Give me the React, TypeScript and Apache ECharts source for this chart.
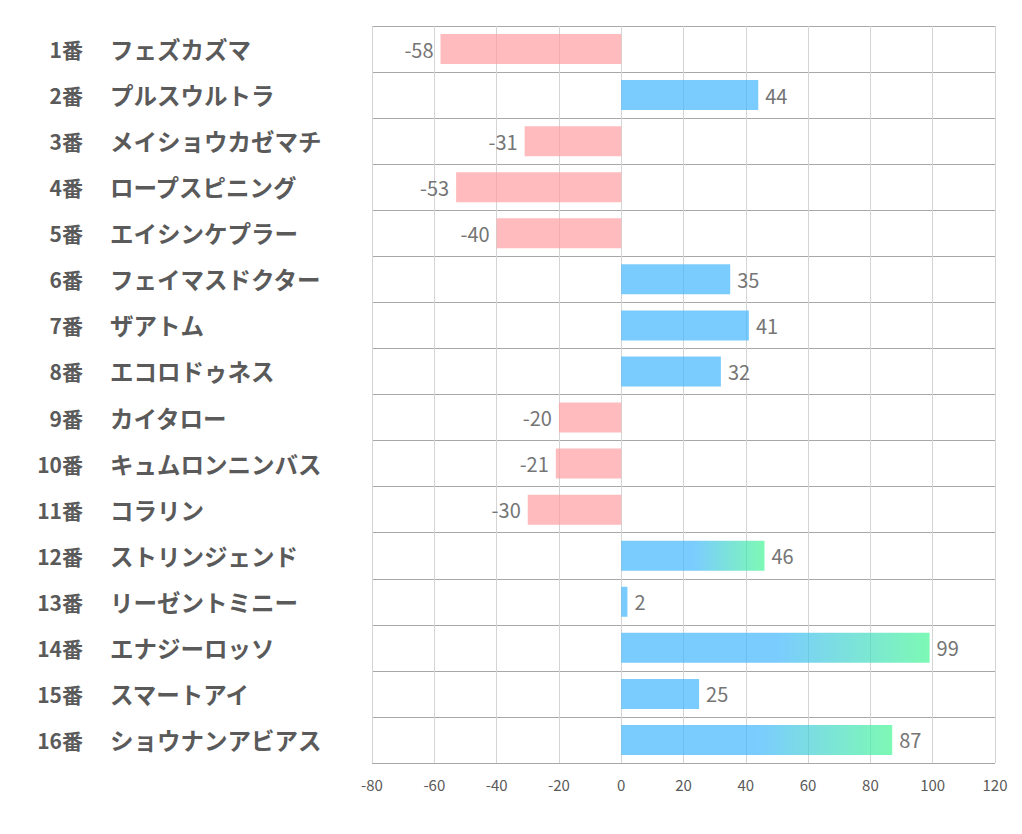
import React, { useEffect, useRef } from "react";
import * as echarts from "echarts";

const numbers = ["1番", "2番", "3番", "4番", "5番", "6番", "7番", "8番", "9番", "10番", "11番", "12番", "13番", "14番", "15番", "16番"];
const horses = ["フェズカズマ", "プルスウルトラ", "メイショウカゼマチ", "ロープスピニング", "エイシンケプラー", "フェイマスドクター", "ザアトム", "エコロドゥネス", "カイタロー", "キュムロンニンバス", "コラリン", "ストリンジェンド", "リーゼントミニー", "エナジーロッソ", "スマートアイ", "ショウナンアビアス"];
const values = [-58, 44, -31, -53, -40, 35, 41, 32, -20, -21, -30, 46, 2, 99, 25, 87];
const xTicks = { min: -80, max: 120, interval: 20 };

const PINK = "rgba(255,158,163,0.7)";
const BLUE = "rgba(65,182,255,0.7)";
const GREEN = "rgba(69,246,149,0.7)";
const FONT = "Noto Sans CJK JP";

export default function App() {
  const ref = useRef<HTMLDivElement>(null);
  useEffect(() => {
    const chart = echarts.init(ref.current!, null, { renderer: "svg" });
    chart.setOption({
      animation: false,
      backgroundColor: "#ffffff",
      grid: { left: 372, right: 27, top: 26, bottom: 71, containLabel: false },
      xAxis: {
        type: "value",
        min: xTicks.min,
        max: xTicks.max,
        interval: xTicks.interval,
        axisLine: { show: false },
        axisTick: { show: false },
        splitLine: { show: true, lineStyle: { color: "#d4d4d4", width: 1 } },
        axisLabel: { color: "#595959", fontSize: 15, margin: 14, fontFamily: FONT },
      },
      yAxis: [
        {
          type: "category",
          inverse: true,
          data: numbers,
          axisLine: { show: false },
          axisTick: { show: false },
          splitLine: { show: true, lineStyle: { color: "#a8a8a8", width: 1 } },
          axisLabel: {
            align: "right",
            margin: 289,
            fontSize: 21,
            fontWeight: "bold",
            color: "#5a5a5a",
            fontFamily: FONT,
            padding: [0, 0, 4, 0],
          },
        },
        {
          type: "category",
          position: "left",
          inverse: true,
          data: horses,
          axisLine: { show: false },
          axisTick: { show: false },
          splitLine: { show: false },
          axisLabel: {
            align: "left",
            margin: 262,
            fontSize: 23.5,
            fontWeight: "bold",
            color: "#5a5a5a",
            fontFamily: FONT,
            padding: [0, 0, 4, 0],
          },
        },
      ],
      series: [
        {
          type: "bar",
          yAxisIndex: 0,
          barWidth: 30,
          data: values.map((v) => ({
            value: v,
            itemStyle: {
              color:
                v < 0
                  ? PINK
                  : v > 45
                  ? new echarts.graphic.LinearGradient(0, 0, 1, 0, [
                      { offset: 0, color: BLUE },
                      { offset: 0.5, color: BLUE },
                      { offset: 1, color: GREEN },
                    ])
                  : BLUE,
            },
            label: { position: v < 0 ? "left" : "right" },
          })),
          label: {
            show: true,
            distance: 7,
            color: "#757575",
            fontSize: 20,
            fontFamily: FONT,
          },
        },
      ],
    });
    return () => chart.dispose();
  }, []);
  return <div ref={ref} style={{ position: "fixed", left: 0, top: 0, width: 1022, height: 834 }} />;
}
